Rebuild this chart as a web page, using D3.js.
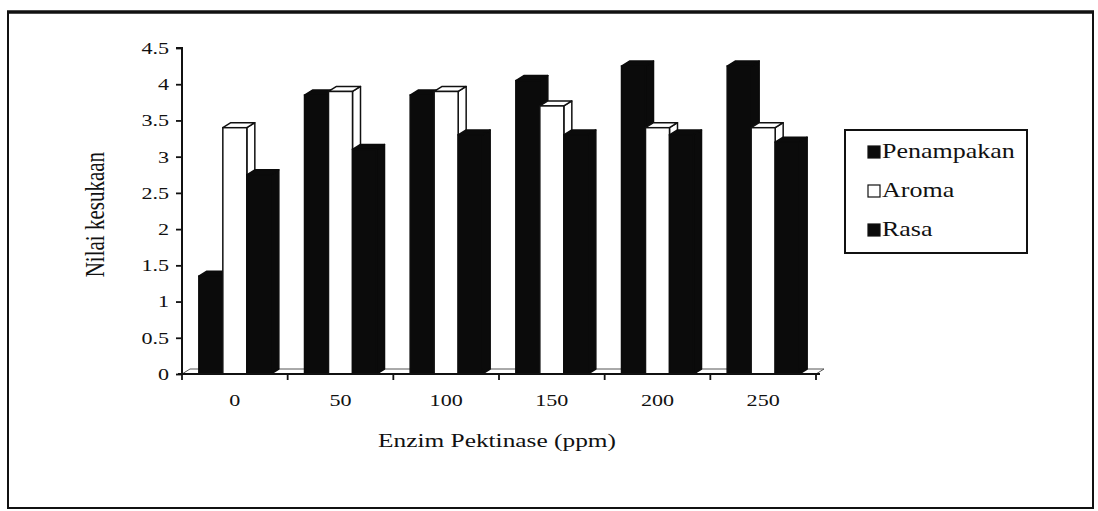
<!DOCTYPE html>
<html>
<head>
<meta charset="UTF-8" />
<title>Nilai kesukaan</title>
<script src="https://d3js.org/d3.v7.min.js"></script>
<style>
  body { margin: 0; background: #fff; }
</style>
</head>
<body>
<script>
// data
var categories = ["0", "50", "100", "150", "200", "250"];
var seriesNames = ["Penampakan", "Aroma", "Rasa"];
var penampakan = [1.35, 3.85, 3.85, 4.05, 4.25, 4.25];
var aroma      = [3.4, 3.9, 3.9, 3.7, 3.4, 3.4];
var rasa       = [2.75, 3.1, 3.3, 3.3, 3.3, 3.2];
var yTicks = [0, 0.5, 1, 1.5, 2, 2.5, 3, 3.5, 4, 4.5];

var seriesVals = [penampakan, aroma, rasa];
var fills = ["#0b0b0b", "#ffffff", "#0b0b0b"];

var W = 1098, H = 511;
var dx = 8, dy = 5;   // 3d depth
var sx = 1.3;         // the scan is stretched sideways
var FONT = "'Liberation Serif', 'Times New Roman', serif";

var svg = d3.select("body").append("svg")
  .attr("width", W).attr("height", H);

// outer frame
svg.append("rect").attr("x", 8).attr("y", 12).attr("width", 1085).attr("height", 496)
  .attr("fill", "none").attr("stroke", "#111").attr("stroke-width", 2);
svg.append("line").attr("x1", 7).attr("x2", 1094).attr("y1", 12).attr("y2", 12)
  .attr("stroke", "#111").attr("stroke-width", 3.5);

var x0 = d3.scaleBand().domain(categories).range([182, 816]).padding(0);
var bw = x0.bandwidth();
var xs = d3.scaleBand().domain(seriesNames).range([bw / 2 - 36, bw / 2 + 36]).padding(0);
var y = d3.scaleLinear().domain([0, 4.5]).range([374, 48]);

var g = svg.append("g");

// floor back edge
g.append("path")
  .attr("d", "M" + x0.range()[0] + "," + y(0) + "L" + (x0.range()[0] + dx) + "," + (y(0) - dy) +
        "L" + (x0.range()[1] + dx) + "," + (y(0) - dy) + "L" + x0.range()[1] + "," + y(0))
  .attr("fill", "none").attr("stroke", "#555").attr("stroke-width", 1);

// bars, left to right so later bars cover the sides
var bars = [];
categories.forEach(function (c, i) {
  seriesNames.forEach(function (s, j) {
    bars.push({ cat: c, s: s, v: seriesVals[j][i], fill: fills[j] });
  });
});

g.selectAll("g.bar").data(bars).enter().append("g").attr("class", "bar")
  .each(function (d) {
    var sel = d3.select(this);
    var x1 = x0(d.cat) + xs(d.s), x2 = x1 + xs.bandwidth();
    var yt = y(d.v), yb = y(0);
    var stroke = d.fill === "#ffffff" ? "#111" : "#0b0b0b";
    // side
    sel.append("path")
      .attr("d", "M" + x2 + "," + yb + "L" + (x2 + dx) + "," + (yb - dy) + "L" + (x2 + dx) + "," + (yt - dy) + "L" + x2 + "," + yt + "Z")
      .attr("fill", d.fill).attr("stroke", stroke).attr("stroke-width", 1.5).attr("stroke-linejoin", "round");
    // top
    sel.append("path")
      .attr("d", "M" + x1 + "," + yt + "L" + (x1 + dx) + "," + (yt - dy) + "L" + (x2 + dx) + "," + (yt - dy) + "L" + x2 + "," + yt + "Z")
      .attr("fill", d.fill).attr("stroke", stroke).attr("stroke-width", 1.5).attr("stroke-linejoin", "round");
    // front
    sel.append("rect")
      .attr("x", x1).attr("y", yt).attr("width", x2 - x1).attr("height", yb - yt)
      .attr("fill", d.fill).attr("stroke", stroke).attr("stroke-width", 1.5);
  });

// y axis
var yAxis = svg.append("g").attr("transform", "translate(" + x0.range()[0] + ",0)")
  .call(d3.axisLeft(y).tickValues(yTicks).tickSize(6).tickPadding(4).tickFormat(function (d) { return String(d); }));
yAxis.attr("font-family", FONT);
yAxis.select(".domain").attr("stroke", "#111").attr("stroke-width", 2)
  .attr("d", "M-6," + y(4.5) + "H0V" + y(0));
yAxis.selectAll(".tick line").attr("stroke", "#111").attr("stroke-width", 1.8);
yAxis.selectAll("text").attr("font-size", 17).attr("fill", "#111")
  .attr("transform", "scale(" + sx + ",1)");

// x axis
var xAxis = svg.append("g").attr("transform", "translate(0," + y(0) + ")")
  .call(d3.axisBottom(x0).tickSize(0).tickPadding(20));
xAxis.attr("font-family", FONT);
xAxis.select(".domain").attr("stroke", "#111").attr("stroke-width", 2)
  .attr("d", "M" + (x0.range()[0] - 4) + ",0H" + (x0.range()[1] + 4));
xAxis.selectAll("text").attr("font-size", 17).attr("fill", "#111")
  .attr("transform", "scale(" + sx + ",1)");
var bounds = categories.map(function (c) { return x0(c); }).concat([x0.range()[1]]);
xAxis.selectAll("line.bound").data(bounds).enter().append("line").attr("class", "bound")
  .attr("x1", function (d) { return d; }).attr("x2", function (d) { return d; })
  .attr("y1", 0).attr("y2", 6).attr("stroke", "#111").attr("stroke-width", 1.8);

// axis titles
svg.append("text").attr("transform", "translate(104," + y(2.2) + ") rotate(-90) scale(1," + sx + ")")
  .attr("text-anchor", "middle").attr("font-family", FONT).attr("font-size", 21).attr("fill", "#111")
  .text("Nilai kesukaan");
svg.append("text").attr("transform", "translate(497,447) scale(" + sx + ",1)")
  .attr("text-anchor", "middle").attr("font-family", FONT).attr("font-size", 19.5).attr("fill", "#111")
  .text("Enzim Pektinase (ppm)");

// legend
var lg = svg.append("g").attr("transform", "translate(845,130)");
lg.append("rect").attr("width", 182).attr("height", 123)
  .attr("fill", "#fff").attr("stroke", "#111").attr("stroke-width", 2);
var items = lg.selectAll("g.item").data(seriesNames).enter().append("g").attr("class", "item")
  .attr("transform", function (d, i) { return "translate(23," + (22 + i * 39) + ")"; });
items.append("rect").attr("x", 0).attr("y", -6).attr("width", 12).attr("height", 12)
  .attr("fill", function (d, i) { return fills[i]; }).attr("stroke", "#111").attr("stroke-width", 1.2);
items.append("text").attr("transform", "translate(14,6) scale(" + sx + ",1)")
  .attr("font-family", FONT).attr("font-size", 20).attr("fill", "#111")
  .text(function (d) { return d; });
</script>
</body>
</html>
